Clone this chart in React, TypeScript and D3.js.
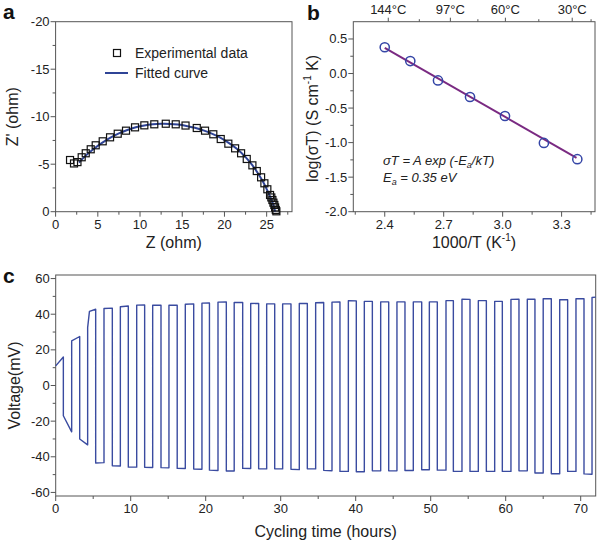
import React from "react";
import * as d3 from "d3";

const FONT = "'Liberation Sans', Arial, Helvetica, sans-serif";
const AXIS = "#555";

// ---------- Panel a: Nyquist plot ----------
const nyqZre = [1.71, 2.18, 2.59, 3.09, 3.57, 4.16, 4.75, 5.58, 6.45, 7.36, 8.34, 9.41, 10.51, 11.69, 13.05, 14.23, 15.39, 16.72, 17.7, 18.68, 19.56, 20.46, 21.26, 21.97, 22.64, 23.31, 23.83, 24.34, 24.73, 25.08, 25.4, 25.55, 25.68, 25.8, 25.91, 26.0, 26.08, 26.15];
const nyqZim = [-5.44, -5.08, -5.22, -5.73, -6.15, -6.57, -6.99, -7.41, -7.83, -8.21, -8.53, -8.88, -9.09, -9.2, -9.26, -9.2, -9.07, -8.81, -8.53, -8.15, -7.65, -7.16, -6.67, -6.15, -5.55, -4.88, -4.28, -3.62, -2.99, -2.36, -1.76, -1.5, -1.23, -0.95, -0.71, -0.45, -0.18, -0.04];
const fitZre = [2.77, 3.5, 4.5, 5.5, 6.5, 7.5, 8.5, 9.5, 10.5, 11.5, 12.5, 13.5, 14.5, 15.5, 16.5, 17.5, 18.5, 19.5, 20.5, 21.5, 22.5, 23.3, 24.0, 24.6, 25.1, 25.5, 25.8, 26.0];
const fitZim = [-5.16, -5.85, -6.6, -7.25, -7.8, -8.25, -8.6, -8.88, -9.08, -9.2, -9.25, -9.24, -9.17, -9.03, -8.83, -8.56, -8.22, -7.8, -7.25, -6.6, -5.75, -4.9, -4.0, -3.1, -2.2, -1.4, -0.7, 0];
const aXTicks = [0, 5, 10, 15, 20, 25];
const aYTicks = [-20, -15, -10, -5, 0];

// ---------- Panel b: Arrhenius plot ----------
const arrX = [2.40, 2.53, 2.671, 2.834, 3.012, 3.21, 3.38];
const arrY = [0.38, 0.18, -0.10, -0.34, -0.615, -1.005, -1.24];
const arrFitX = [2.40, 3.376];
const arrFitY = [0.37, -1.22];
const bXTicks = [2.4, 2.7, 3.0, 3.3];
const bYTicks = [0.5, 0.0, -0.5, -1.0, -1.5, -2.0];
const tempLabels = ["144°C", "97°C", "60°C", "30°C"];
const tempPos = [2.418, 2.734, 3.014, 3.354];

// ---------- Panel c: cycling ----------
const cycEdges = [0, 1.02, 2.13, 3.2, 4.26, 5.33, 6.44, 7.55, 8.62, 9.68, 10.8, 11.86, 12.93, 14.04, 15.1, 16.2, 17.28, 18.4, 19.5, 20.5, 21.64, 22.75, 23.8, 24.93, 26.0, 27.06, 28.13, 29.2, 30.26, 31.37, 32.48, 33.55, 34.66, 35.73, 36.84, 37.9, 39.02, 40.08, 41.15, 42.22, 43.33, 44.4, 45.5, 46.57, 47.68, 48.8, 49.82, 50.88, 52.04, 53.02, 54.17, 55.24, 56.35, 57.42, 58.53, 59.55, 60.7, 61.77, 62.88, 63.9, 65.0, 66.08, 67.2, 68.26, 69.37, 70.44, 71.51, 72];
const cycStartV = [11, -17, 25, -30, 32.5, -43.5, 43.2, -45, 44.2, -45.8, 45.1, -45.9, 45, -46.1, 45, -46.5, 45.6, -46.9, 46.2, -47.5, 46.8, -48, 46.6, -46.5, 46, -46.7, 45.8, -46.7, 45.8, -47, 46, -46.7, 46.4, -47.6, 46.8, -48.2, 47.6, -48.4, 47.2, -47.9, 46.9, -47.9, 46.9, -47.7, 46.9, -47.3, 46.9, -47.5, 47.6, -48.2, 48.4, -48.2, 47.6, -48.2, 47.2, -48.2, 48.3, -47.9, 48.4, -49.1, 48.7, -49.5, 48.1, -48.2, 48.7, -49.6, 49.4];
const cycEndV = [16, -26, 27.5, -33.3, 42.8, -43.3, 43.4, -45.2, 44.6, -45.8, 45.2, -46, 45, -46.2, 45, -46.6, 45.8, -47, 46.3, -47.7, 46.9, -48, 46.6, -46.6, 46.1, -46.8, 45.8, -46.8, 45.8, -47.2, 46, -46.8, 46.6, -47.8, 46.9, -48.2, 47.5, -48.4, 47.2, -47.9, 46.9, -47.9, 46.9, -47.7, 46.9, -47.3, 46.9, -47.5, 47.6, -48.2, 48.3, -48.2, 47.6, -48.2, 47.2, -48.2, 48.4, -47.9, 48.4, -49.1, 48.7, -49.5, 48.1, -48.2, 48.7, -49.8, 49.6];
const rampT = [4.5];
const rampV = [41.6];
const cXTicks = [0, 10, 20, 30, 40, 50, 60, 70];
const cYTicks = [60, 40, 20, 0, -20, -40, -60];

type Scale = d3.ScaleLinear<number, number>;

function Frame({ x, y }: { x: Scale; y: Scale }) {
  const [x0, x1] = x.range();
  const [y0, y1] = y.range();
  return (
    <rect x={Math.min(x0, x1)} y={Math.min(y0, y1)} width={Math.abs(x1 - x0)} height={Math.abs(y1 - y0)}
      fill="none" stroke={AXIS} strokeWidth={1} />
  );
}

function BottomAxis({ x, y, ticks, minors, fmt, size = 13 }: { x: Scale; y: Scale; ticks: number[]; minors: number[]; fmt: (v: number) => string; size?: number }) {
  const yb = Math.max(...y.range());
  return (
    <g>
      {ticks.map((t) => (
        <g key={"M" + t}>
          <line x1={x(t)} x2={x(t)} y1={yb} y2={yb + 5} stroke={AXIS} />
          <text x={x(t)} y={yb + 17} textAnchor="middle" fontSize={size} fill="#222" fontFamily={FONT}>{fmt(t)}</text>
        </g>
      ))}
      {minors.map((t) => (
        <line key={"m" + t} x1={x(t)} x2={x(t)} y1={yb} y2={yb + 3} stroke={AXIS} />
      ))}
    </g>
  );
}

function LeftAxis({ x, y, ticks, minors, fmt, size = 13 }: { x: Scale; y: Scale; ticks: number[]; minors: number[]; fmt: (v: number) => string; size?: number }) {
  const xl = Math.min(...x.range());
  return (
    <g>
      {ticks.map((t) => (
        <g key={"M" + t}>
          <line x1={xl} x2={xl - 5} y1={y(t)} y2={y(t)} stroke={AXIS} />
          <text x={xl - 6} y={y(t) + 4.5} textAnchor="end" fontSize={size} fill="#222" fontFamily={FONT}>{fmt(t)}</text>
        </g>
      ))}
      {minors.map((t) => (
        <line key={"m" + t} x1={xl} x2={xl - 3} y1={y(t)} y2={y(t)} stroke={AXIS} />
      ))}
    </g>
  );
}

function mids(ticks: number[], extra: number[] = []) {
  const out: number[] = [];
  for (let i = 0; i < ticks.length - 1; i++) out.push((ticks[i] + ticks[i + 1]) / 2);
  return out.concat(extra);
}

export default function App() {
  // scales
  const xA = d3.scaleLinear().domain([0, 28]).range([55.6, 292]);
  const yA = d3.scaleLinear().domain([-20, 0]).range([21.7, 211.7]);
  const xB = d3.scaleLinear().domain([2.24, 3.47]).range([353.3, 595]);
  const yB = d3.scaleLinear().domain([0.75, -2.0]).range([21.7, 211.7]);
  const xC = d3.scaleLinear().domain([0, 72]).range([55.7, 595.7]);
  const yC = d3.scaleLinear().domain([62, -62]).range([275, 496]);

  const fitPts = fitZre.map((z, i) => [z, fitZim[i]] as [number, number]);
  const fitPath = d3.line<[number, number]>().x((d) => xA(d[0])).y((d) => yA(d[1])).curve(d3.curveCatmullRom)(fitPts) || "";

  const arrFitPath = d3.line<number>().x((d) => xB(d)).y((_, i) => yB(arrFitY[i]))(arrFitX) || "";

  const cycPts: [number, number][] = [];
  for (let i = 0; i < cycEdges.length - 1; i++) {
    cycPts.push([cycEdges[i], cycStartV[i]]);
    rampT.forEach((t, k) => {
      if (t > cycEdges[i] && t < cycEdges[i + 1]) cycPts.push([t, rampV[k]]);
    });
    cycPts.push([cycEdges[i + 1], cycEndV[i]]);
  }
  const cycPath = d3.line<[number, number]>().x((d) => xC(d[0])).y((d) => yC(d[1]))(cycPts) || "";

  const sq = 7;
  const xbTop = Math.min(...yB.range());

  return (
    <svg width={600} height={548} style={{ position: "absolute", left: 0, top: 0, background: "#fff" }} fontFamily={FONT}>
      <rect x={0} y={0} width={600} height={548} fill="#fff" />

      {/* ===== Panel a ===== */}
      <text x={3} y={19} fontSize={21} fontWeight="bold" fill="#111">a</text>
      <Frame x={xA} y={yA} />
      <BottomAxis x={xA} y={yA} ticks={aXTicks} minors={mids(aXTicks, [27.5])} fmt={(v) => String(v)} />
      <LeftAxis x={xA} y={yA} ticks={aYTicks} minors={mids(aYTicks)} fmt={(v) => String(v)} />
      <path d={fitPath} fill="none" stroke="#2f4496" strokeWidth={2} />
      {nyqZre.map((z, i) => (
        <rect key={i} x={xA(z) - sq / 2} y={yA(nyqZim[i]) - sq / 2} width={sq} height={sq} fill="none" stroke="#111" strokeWidth={1.2} />
      ))}
      <rect x={117 - sq / 2} y={53 - sq / 2} width={sq} height={sq} fill="none" stroke="#111" strokeWidth={1.2} />
      <text x={135} y={58} fontSize={14} fill="#222">Experimental data</text>
      <line x1={105} x2={128} y1={73} y2={73} stroke="#2f4496" strokeWidth={2} />
      <text x={135} y={78} fontSize={14} fill="#222">Fitted curve</text>
      <text x={xA(14)} y={248} textAnchor="middle" fontSize={16} fill="#222">Z (ohm)</text>
      <text transform={`translate(18,${yA(-10)}) rotate(-90)`} textAnchor="middle" fontSize={16} fill="#222">Z' (ohm)</text>

      {/* ===== Panel b ===== */}
      <text x={307} y={20} fontSize={21} fontWeight="bold" fill="#111">b</text>
      <Frame x={xB} y={yB} />
      <BottomAxis x={xB} y={yB} ticks={bXTicks} minors={mids(bXTicks, [2.25, 3.45])} fmt={(v) => v.toFixed(1)} />
      <LeftAxis x={xB} y={yB} ticks={bYTicks} minors={mids(bYTicks)} fmt={(v) => v.toFixed(1)} />
      {tempPos.map((t, i) => (
        <g key={i}>
          <line x1={xB(t)} x2={xB(t)} y1={xbTop} y2={xbTop - 4} stroke={AXIS} />
          <text x={xB(t)} y={14} textAnchor="middle" fontSize={13} fill="#222">{tempLabels[i]}</text>
        </g>
      ))}
      {mids(tempPos, [3.45]).map((t, i) => (
        <line key={"tm" + i} x1={xB(t)} x2={xB(t)} y1={xbTop} y2={xbTop - 2.5} stroke={AXIS} />
      ))}
      <path d={arrFitPath} fill="none" stroke="#7a2a82" strokeWidth={2} />
      {arrX.map((v, i) => (
        <circle key={i} cx={xB(v)} cy={yB(arrY[i])} r={4.6} fill="none" stroke="#3445a6" strokeWidth={1.5} />
      ))}
      <text x={383} y={165} fontSize={13} fontStyle="italic" fill="#222">
        σT = A exp (-E<tspan fontSize={9} dy={3}>a</tspan><tspan dy={-3}>/kT)</tspan>
      </text>
      <text x={383} y={182} fontSize={13} fontStyle="italic" fill="#222">
        E<tspan fontSize={9} dy={3}>a</tspan><tspan dy={-3}> = 0.35 eV</tspan>
      </text>
      <text x={474} y={248} textAnchor="middle" fontSize={16} fill="#222">
        1000/T (K<tspan fontSize={10} dy={-7}>-1</tspan><tspan dy={7}>)</tspan>
      </text>
      <text transform={`translate(318,${yB(-0.65)}) rotate(-90)`} textAnchor="middle" fontSize={16} fill="#222">
        log(σT) (S cm<tspan fontSize={10} dy={-7}>-1</tspan><tspan dy={7}> K)</tspan>
      </text>

      {/* ===== Panel c ===== */}
      <text x={3} y={283} fontSize={21} fontWeight="bold" fill="#111">c</text>
      <Frame x={xC} y={yC} />
      <BottomAxis x={xC} y={yC} ticks={cXTicks} minors={mids(cXTicks)} fmt={(v) => String(v)} />
      <LeftAxis x={xC} y={yC} ticks={cYTicks} minors={mids(cYTicks)} fmt={(v) => String(v)} />
      <path d={cycPath} fill="none" stroke="#3a4ba0" strokeWidth={1.4} strokeLinejoin="round" />
      <text x={xC(36)} y={537} textAnchor="middle" fontSize={16} fill="#222">Cycling time (hours)</text>
      <text transform={`translate(20,${yC(0)}) rotate(-90)`} textAnchor="middle" fontSize={16} fill="#222">Voltage(mV)</text>
    </svg>
  );
}
